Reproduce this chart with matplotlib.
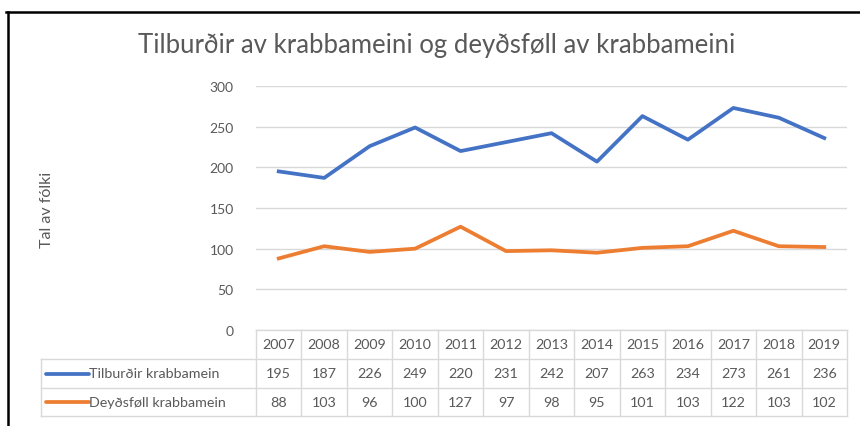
import numpy as np
import matplotlib.pyplot as plt
from matplotlib.lines import Line2D
from matplotlib.transforms import blended_transform_factory

years = ["2007", "2008", "2009", "2010", "2011", "2012", "2013",
         "2014", "2015", "2016", "2017", "2018", "2019"]
tilburdir = [195, 187, 226, 249, 220, 231, 242, 207, 263, 234, 273, 261, 236]
deydsfoll = [88, 103, 96, 100, 127, 97, 98, 95, 101, 103, 122, 103, 102]
series_names = ["Tilburðir krabbamein", "Deyðsføll krabbamein"]
title = "Tilburðir av krabbameini og deyðsføll av krabbameini"
ylabel = "Tal av fólki"
yticks = [0, 50, 100, 150, 200, 250, 300]

plt.rcParams["font.family"] = ["Lato", "DejaVu Sans"]
text_color = "#595959"
grid_color = "#D9D9D9"
colors = ["#4472C4", "#ED7D31"]

W, H = 860, 427
fig = plt.figure(figsize=(W / 100, H / 100), dpi=100)

# plot area in pixels
left_px, right_px, top_px, bot_px = 256, 847, 87, 331
ax = fig.add_axes([left_px / W, 1 - bot_px / H,
                   (right_px - left_px) / W, (bot_px - top_px) / H])

x = np.arange(len(years))
for vals, c in zip([tilburdir, deydsfoll], colors):
    ax.plot(x, vals, color=c, lw=2.7, solid_joinstyle="round", zorder=3)

ax.set_xlim(-0.5, len(years) - 0.5)
ax.set_ylim(0, 300)
ax.set_yticks(yticks)
ax.set_xticks([])
ax.tick_params(axis="y", length=0, pad=16, labelsize=10, labelcolor=text_color)
ax.grid(axis="y", color=grid_color, lw=1)
for s in ax.spines.values():
    s.set_visible(False)

# data table below the plot
trans = blended_transform_factory(ax.transData, ax.transAxes)
col_w = (right_px - left_px) / len(years)
leg_left = -0.5 - (left_px - 41) / col_w
row_h = 29 / (bot_px - top_px)
rows = [0, -row_h, -2 * row_h, -3 * row_h + 0.005]
tab_kw = dict(color=grid_color, lw=1, transform=trans, clip_on=False)

# horizontal lines
ax.add_line(Line2D([-0.5, len(years) - 0.5], [rows[0], rows[0]], **tab_kw))
for r in rows[1:]:
    ax.add_line(Line2D([leg_left, len(years) - 0.5], [r, r], **tab_kw))
# vertical lines
for i in range(len(years) + 1):
    ax.add_line(Line2D([i - 0.5, i - 0.5], [rows[0], rows[3]], **tab_kw))
ax.add_line(Line2D([leg_left, leg_left], [rows[1], rows[3]], **tab_kw))

for i, yr in enumerate(years):
    ax.text(i, (rows[0] + rows[1]) / 2, yr, ha="center", va="center",
            fontsize=10.3, color=text_color, transform=trans)
for k, vals in enumerate([tilburdir, deydsfoll]):
    yc = (rows[k + 1] + rows[k + 2]) / 2
    for i, v in enumerate(vals):
        ax.text(i, yc, str(v), ha="center", va="center",
                fontsize=10.3, color=text_color, transform=trans)
    ax.add_line(Line2D([leg_left + 0.1, leg_left + 1.05], [yc, yc],
                       color=colors[k], lw=2.7, transform=trans, clip_on=False,
                       solid_capstyle="round"))
    ax.text(leg_left + 1.05, yc, series_names[k], ha="left", va="center",
            fontsize=10.3, color=text_color, transform=trans)

# title and y label
fig.text(437 / W, 1 - 45 / H, title, ha="center", va="center",
         fontsize=18.5, color=text_color)
fig.text(47 / W, 1 - 210 / H, ylabel, ha="center", va="center",
         rotation=90, fontsize=11.5, color=text_color)

# frame on top and left
fig.add_artist(Line2D([6 / W, 1], [1 - 12.5 / H, 1 - 12.5 / H],
                      color="black", lw=1.8, transform=fig.transFigure))
fig.add_artist(Line2D([7.5 / W, 7.5 / W], [0, 1 - 12.5 / H],
                      color="black", lw=1.8, transform=fig.transFigure))

fig.savefig("out.png", dpi=100, facecolor="white")
